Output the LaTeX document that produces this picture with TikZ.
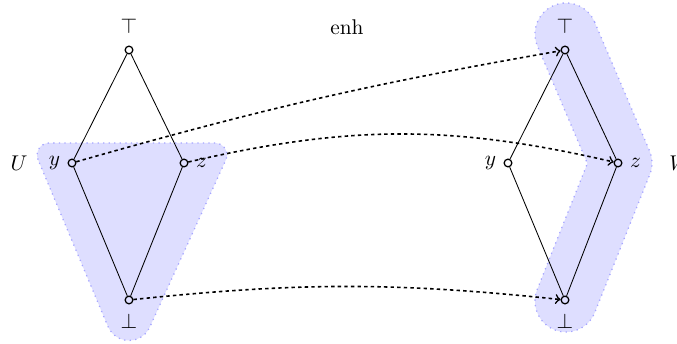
\documentclass[tikz,border=0pt]{standalone}
\usetikzlibrary{calc}
\begin{document}
\begin{tikzpicture}[x=0.0165cm, y=0.0165cm,
		pt/.style={circle, draw, line width=0.6pt, inner sep=0pt, minimum size=3.6pt},
		region/.style={fill=blue!13, draw=blue!35, dotted, line width=0.6pt},
		map/.style={->, line width=0.75pt, dash pattern=on 1.6pt off 1.5pt}]
	\useasboundingbox (0,0) rectangle (677,344);
	
	% Bereich U (links)
	\coordinate (uTL) at (49.1,189);
	\coordinate (uTR) at (214.9,189);
	\coordinate (uB) at (129,26.3);
	\draw[region] ($(uTL)+(202.8:12)$) arc[start angle=202.8, end angle=90, radius=12]
		-- ($(uTR)+(90:12)$) arc[start angle=90, end angle=-22.8, radius=12]
		-- ($(uB)+(-22.8:22.8)$) arc[start angle=-22.8, end angle=-157.2, radius=22.8] -- cycle;
	
	% Bereich W (rechts)
	\coordinate (wT) at (566,310);
	\coordinate (wZ) at (621,181);
	\coordinate (wB) at (566,43);
	\draw[region] ($(wT)+(23.1:31)$) -- ($(wZ)+(23.1:31)$)
		arc[start angle=23.1, end angle=-21.7, radius=31]
		-- ($(wB)+(-21.7:31)$)
		arc[start angle=-21.7, end angle=-201.7, radius=31]
		-- (587.4,180.6) -- ($(wT)+(203.1:31)$)
		arc[start angle=203.1, end angle=23.1, radius=31] -- cycle;
	
	% Verbaende
	\node[pt, label={[label distance=2pt]above:$\top$}] (lt) at (129,294) {};
	\node[pt, label=left:$y$] (ly) at (72,181) {};
	\node[pt, label=right:$z$] (lz) at (184,181) {};
	\node[pt, label={[label distance=1pt]below:$\bot$}] (lb) at (129,44) {};
	
	\node[pt, label={[label distance=2pt]above:$\top$}] (rt) at (565,294) {};
	\node[pt, label=left:$y$] (ry) at (508,181) {};
	\node[pt, label=right:$z$] (rz) at (618,181) {};
	\node[pt, label={[label distance=1pt]below:$\bot$}] (rb) at (565,44) {};
	
	\foreach \s in {l,r} {
		\draw (\s t) -- (\s y) -- (\s b) -- (\s z) -- (\s t);
	}
	
	\node (U) at (19,181) {$U$};
	\node[anchor=west, inner sep=0pt] (W) at (669,181) {$W$};
	\node (enh) at (347,317) {enh};
	
	% Abbildung
	\draw[map] (ly) to[bend left=3] (rt);
	\draw[map] (lz) to[bend left=13] (rz);
	\draw[map] (lb) to[bend left=6] (rb);
\end{tikzpicture}
\end{document}
